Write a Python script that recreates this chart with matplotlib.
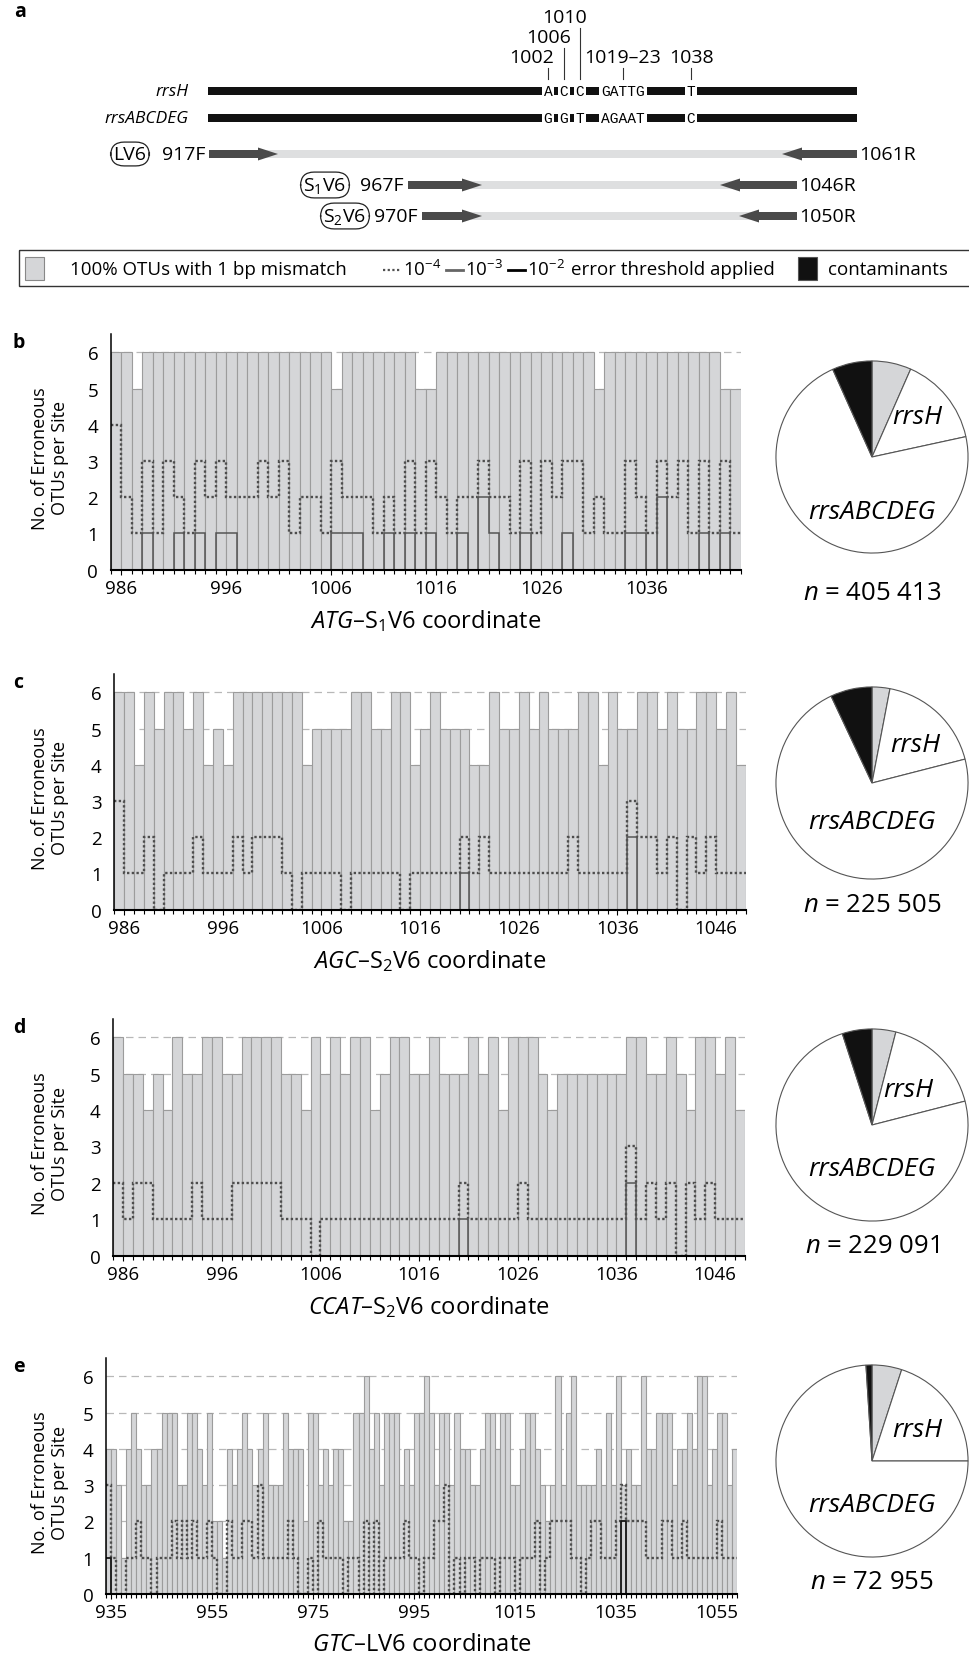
import numpy as np
import matplotlib.pyplot as plt
from matplotlib.patches import Rectangle, FancyArrow
from matplotlib.transforms import blended_transform_factory

plt.rcParams['font.family'] = ['Open Sans', 'DejaVu Sans']
plt.rcParams['mathtext.fontset'] = 'custom'
plt.rcParams['mathtext.rm'] = 'Open Sans'
plt.rcParams['mathtext.it'] = 'Open Sans:italic'
plt.rcParams['mathtext.bf'] = 'Open Sans:bold'

# ---------------- panel a (schematic) ----------------
site_labels = ['1002', '1006', '1010', '1019–23', '1038']
rrsH_bases = ['A', 'C', 'C', 'GATTG', 'T']
rrsABCDEG_bases = ['G', 'G', 'T', 'AGAAT', 'C']
amplicons = ['LV6', 'S$_1$V6', 'S$_2$V6']
fwd_primers = ['917F', '967F', '970F']
rev_primers = ['1061R', '1046R', '1050R']

# ---------------- panels b-e ----------------
b_start = 985
b_otus = [6, 6, 5, 6, 6, 6, 6, 6, 6, 6, 6, 6, 6, 6, 6, 6, 6, 6, 6, 6,
          6, 5, 6, 6, 6, 6, 6, 6, 6, 5, 5, 6, 6, 6, 6, 6, 6, 6, 6, 6,
          6, 6, 6, 6, 6, 6, 5, 6, 6, 6, 6, 6, 6, 6, 6, 6, 6, 6, 5, 5]
b_e4 = [4, 2, 1, 3, 1, 3, 2, 1, 3, 2, 3, 2, 2, 2, 3, 2, 3, 1, 2, 2,
        1, 3, 2, 2, 2, 1, 2, 1, 3, 1, 3, 2, 1, 2, 2, 3, 2, 2, 1, 3,
        1, 3, 2, 3, 3, 1, 2, 1, 1, 3, 2, 1, 3, 2, 3, 1, 3, 1, 3, 1]
b_e3 = [0, 0, 0, 1, 0, 0, 1, 0, 1, 0, 1, 1, 0, 0, 0, 0, 0, 0, 0, 0,
        0, 1, 1, 1, 0, 0, 1, 0, 1, 0, 1, 0, 0, 1, 0, 2, 1, 0, 0, 1,
        0, 0, 0, 1, 0, 0, 0, 0, 0, 1, 1, 0, 2, 0, 0, 0, 1, 0, 1, 0]

c_start = 985
c_otus = [6, 6, 4, 6, 5, 6, 6, 5, 6, 4, 5, 4, 6, 6, 6, 6, 6, 6, 6, 4,
          5, 5, 5, 5, 6, 6, 5, 5, 6, 6, 4, 5, 6, 5, 5, 5, 4, 4, 6, 5,
          5, 6, 5, 6, 5, 5, 5, 6, 6, 4, 6, 5, 5, 6, 6, 5, 6, 5, 5, 6,
          6, 5, 6, 4]
c_e4 = [3, 1, 1, 2, 0, 1, 1, 1, 2, 1, 1, 1, 2, 1, 2, 2, 2, 1, 0, 1,
        1, 1, 1, 0, 1, 1, 1, 1, 1, 0, 1, 1, 1, 1, 1, 2, 1, 2, 1, 1,
        1, 1, 1, 1, 1, 1, 2, 1, 1, 1, 1, 1, 3, 2, 2, 1, 2, 0, 2, 1,
        2, 1, 1, 1]
c_e3 = [0] * 35 + [1] + [0] * 16 + [2] + [0] * 11

d_start = 985
d_otus = [6, 5, 5, 4, 5, 4, 6, 5, 5, 6, 6, 5, 5, 6, 6, 6, 6, 5, 5, 4,
          6, 5, 6, 5, 6, 6, 4, 5, 6, 6, 5, 5, 6, 5, 5, 5, 6, 5, 6, 4,
          6, 6, 6, 5, 4, 5, 5, 5, 5, 5, 5, 5, 6, 6, 5, 5, 6, 5, 4, 6,
          6, 5, 6, 4]
d_e4 = [2, 1, 2, 2, 1, 1, 1, 1, 2, 1, 1, 1, 2, 2, 2, 2, 2, 1, 1, 1,
        0, 1, 1, 1, 1, 1, 1, 1, 1, 1, 1, 1, 1, 1, 1, 2, 1, 1, 1, 1,
        1, 2, 1, 1, 1, 1, 1, 1, 1, 1, 1, 1, 3, 1, 2, 1, 2, 0, 2, 1,
        2, 1, 1, 1]
d_e3 = [0] * 35 + [1] + [0] * 16 + [2] + [0] * 11

e_start = 934
e_otus = [4, 4, 3, 1, 4, 5, 4, 3, 3, 4, 4, 5, 5, 5, 3, 3, 5, 5, 4, 3,
          5, 2, 2, 1, 4, 3, 4, 5, 4, 3, 4, 5, 3, 3, 3, 5, 4, 4, 4, 2,
          5, 5, 3, 4, 3, 4, 4, 2, 2, 5, 5, 6, 4, 5, 3, 5, 5, 5, 3, 4,
          3, 5, 5, 6, 5, 3, 5, 5, 3, 5, 4, 4, 3, 3, 4, 5, 5, 4, 5, 5,
          3, 3, 4, 5, 5, 4, 3, 2, 3, 6, 3, 5, 6, 3, 3, 3, 3, 4, 3, 5,
          3, 6, 3, 4, 3, 3, 6, 4, 4, 5, 5, 5, 3, 4, 4, 5, 4, 6, 6, 3,
          4, 5, 5, 3, 4]
e_e4 = [3, 1, 0, 0, 1, 1, 2, 1, 1, 0, 1, 1, 1, 2, 1, 2, 1, 2, 1, 1,
        2, 1, 0, 0, 2, 1, 1, 2, 2, 1, 3, 1, 1, 1, 1, 1, 2, 1, 0, 0,
        1, 0, 2, 1, 1, 1, 1, 0, 1, 1, 0, 2, 0, 2, 0, 1, 1, 1, 1, 2,
        1, 1, 0, 1, 1, 2, 2, 3, 0, 1, 0, 1, 1, 0, 1, 1, 1, 0, 1, 1,
        1, 0, 1, 1, 1, 2, 0, 1, 2, 2, 2, 2, 1, 1, 0, 1, 2, 2, 1, 1,
        1, 2, 3, 2, 2, 2, 2, 1, 1, 1, 2, 2, 1, 1, 2, 1, 1, 1, 1, 1,
        1, 2, 1, 1, 1]
e_e3 = [1] + [0] * 101 + [2] + [0] * 22
e_e2 = [1] + [0] * 101 + [2] + [0] * 22

tick_labels_b = [986, 996, 1006, 1016, 1026, 1036]
tick_labels_c = [986, 996, 1006, 1016, 1026, 1036, 1046]
tick_labels_e = [935, 955, 975, 995, 1015, 1035, 1055]

primer_prefix = ['ATG', 'AGC', 'CCAT', 'GTC']
primer_region = ['S$_1$V6', 'S$_2$V6', 'S$_2$V6', 'LV6']

# pie shares (%): 1-bp mismatch OTUs, rrsH, rrsABCDEG, contaminants
pie_b = [6.6, 15.0, 71.7, 6.7]
pie_c = [3.0, 18.0, 72.0, 7.0]
pie_d = [4.0, 17.0, 74.0, 5.0]
pie_e = [5.0, 20.0, 74.0, 1.0]
n_reads = ['405 413', '225 505', '229 091', '72 955']

GRAY = '#d5d6d8'
EDGE = '#9c9c9c'
W, H = 969, 1656
FS = 13.5

fig = plt.figure(figsize=(W / 100, H / 100), dpi=100)
ov = fig.add_axes([0, 0, 1, 1], zorder=0)
ov.set_xlim(0, W)
ov.set_ylim(H, 0)
ov.axis('off')


def px_axes(x0, y0, x1, y1):
    return fig.add_axes([x0 / W, 1 - y1 / H, (x1 - x0) / W, (y1 - y0) / H], zorder=1)


# ---- panel a ----
ov.text(14, 12, 'a', fontsize=14, fontweight='bold', va='center')
site_x = [548, 564, 580, 623, 691]
label_x = [532, 549, 565, 623, 692]
label_y = [58, 38, 18, 58, 58]
for sx, lx, ly, lab in zip(site_x, label_x, label_y, site_labels):
    ov.text(lx, ly, lab, fontsize=14, ha='center', va='center')
    ov.plot([sx, sx], [ly + 11, 80], color='#333', lw=0.8)

gene_y = [92, 119]
for gy, name, bases in zip(gene_y, ['rrsH', 'rrsABCDEG'], [rrsH_bases, rrsABCDEG_bases]):
    ov.add_patch(Rectangle((208, gy - 4), 649, 8, color='#111', lw=0))
    ov.text(189, gy, name, fontsize=12.5, style='italic', ha='right', va='center')
    for sx, b in zip(site_x, bases):
        ov.text(sx, gy, b, fontsize=10.5, family='Liberation Mono', ha='center', va='center',
                bbox=dict(facecolor='white', edgecolor='none', pad=1.4))

row_y = [155, 186, 217]
bar_x0 = [209, 408, 422]
bar_x1 = [857, 797, 797]
fwd_end = [278, 482, 482]
rev_start = [782, 720, 739]
box_x = [130, 325, 345]
for y, x0, x1, fe, rs, bx, amp, fp, rp in zip(row_y, bar_x0, bar_x1, fwd_end, rev_start,
                                                box_x, amplicons, fwd_primers, rev_primers):
    ov.add_patch(Rectangle((x0, y - 4), x1 - x0, 8, color='#dedfe0', lw=0))
    ov.add_patch(FancyArrow(x0, y, fe - x0, 0, width=8, head_width=13, head_length=20,
                            length_includes_head=True, color='#4a4a4a', lw=0))
    ov.add_patch(FancyArrow(x1, y, rs - x1, 0, width=8, head_width=13, head_length=20,
                            length_includes_head=True, color='#4a4a4a', lw=0))
    ov.text(bx, y, amp, fontsize=14, ha='center', va='center',
            bbox=dict(boxstyle='round,pad=0.15,rounding_size=0.7', fc='white', ec='#222', lw=0.9))
    ov.text(x0 - 4, y, fp, fontsize=14, ha='right', va='center')
    ov.text(x1 + 2, y, rp, fontsize=14, ha='left', va='center')

# ---- legend ----
ov.add_patch(Rectangle((19, 251), 960, 36, fill=False, ec='#333', lw=1.0))
ov.add_patch(Rectangle((25, 258), 19, 23, fc=GRAY, ec='#888', lw=0.8))
ov.text(70, 270, '100% OTUs with 1 bp mismatch', fontsize=FS, va='center')
ov.plot([383, 401], [271, 271], color='#505050', lw=1.6, linestyle=(0, (1, 1.1)))
ov.text(403, 270, '10$^{-4}$', fontsize=FS, va='center')
ov.plot([446, 463], [271, 271], color='#666', lw=2)
ov.text(465, 270, '10$^{-3}$', fontsize=FS, va='center')
ov.plot([508, 525], [271, 271], color='black', lw=2)
ov.text(527, 270, '10$^{-2}$', fontsize=FS, va='center')
ov.text(571, 270, 'error threshold applied', fontsize=FS, va='center')
ov.add_patch(Rectangle((798, 258), 19, 23, fc='#111', ec='#555', lw=0.8))
ov.text(828, 270, 'contaminants', fontsize=FS, va='center')


# ---- bar panels ----
def bar_panel(rect, letter, start, otus, e4, e3, e2, ticks, prefix, region):
    ax = px_axes(*rect)
    n = len(otus)
    edges = np.arange(start, start + n + 1)
    for y in range(1, 7):
        ax.axhline(y, color='#b8b8b8', lw=0.9, dashes=(6, 4), zorder=1)
    ax.bar(edges[:-1], otus, width=1, align='edge', color=GRAY, edgecolor=EDGE,
           linewidth=0.8, zorder=2)
    ax.stairs(e4, edges, baseline=None, color='#4d4d4d', lw=1.7,
              linestyle=(0, (1, 1.0)), zorder=3)
    ax.stairs(e3, edges, baseline=None, color='#555555', lw=1.1, zorder=4)
    ax.stairs(e2, edges, baseline=None, color='#111111', lw=1.1, zorder=5)
    ax.set_xlim(edges[0], edges[-1])
    ax.set_ylim(0, 6.5)
    for s in ['top', 'right']:
        ax.spines[s].set_visible(False)
    ax.spines['left'].set_linewidth(1.1)
    ax.spines['bottom'].set_linewidth(1.5)
    for s in ['left', 'bottom']:
        ax.spines[s].set_zorder(10)
    ax.set_yticks(range(7))
    ax.set_xticks(ticks)
    ax.set_xticks(edges, minor=True)
    ax.tick_params(axis='y', length=0, pad=9, labelsize=13.5)
    ax.tick_params(axis='x', which='both', length=3.5, width=0.8, pad=3, labelsize=13.5)
    ax.tick_params(axis='x', which='minor', length=3)
    ax.patch.set_alpha(0)
    x0, y0, x1, y1 = rect
    hpx = y1 - y0
    ax.text(0.5, -50 / hpx, '$\\mathit{%s}$–%s coordinate' % (prefix, region), fontsize=17,
            ha='center', va='center', transform=ax.transAxes)
    tr = blended_transform_factory(ax.transAxes, ax.transData)
    ax.text((50 - x0) / (x1 - x0), 3.1, 'No. of Erroneous\nOTUs per Site', fontsize=13,
            rotation=90, ha='center', va='center', multialignment='center', transform=tr,
            linespacing=1.2)
    ov.text(13, y0 + 8, letter, fontsize=14, fontweight='bold', va='center')
    return ax


zeros = lambda k: [0] * k
bar_panel((110.7, 335.2, 740.7, 570.7), 'b', b_start, b_otus, b_e4, b_e3, zeros(len(b_otus)),
          tick_labels_b, primer_prefix[0], primer_region[0])
bar_panel((114.3, 675.2, 745.7, 910.7), 'c', c_start, c_otus, c_e4, c_e3, zeros(len(c_otus)),
          tick_labels_c, primer_prefix[1], primer_region[1])
bar_panel((113.3, 1020.0, 744.7, 1256.7), 'd', d_start, d_otus, d_e4, d_e3, zeros(len(d_otus)),
          tick_labels_c, primer_prefix[2], primer_region[2])
bar_panel((106.0, 1359.3, 737.3, 1595.0), 'e', e_start, e_otus, e_e4, e_e3, e_e2,
          tick_labels_e, primer_prefix[3], primer_region[3])


# ---- pies ----
def pie_panel(cy, shares, n_txt, rrsH_pos, main_y, n_off):
    r = 97
    cx = 872
    ax = px_axes(cx - r, cy - r, cx + r, cy + r)
    ax.pie(shares, colors=[GRAY, 'white', 'white', '#111111'], startangle=90,
           counterclock=False, radius=1,
           wedgeprops=dict(edgecolor='#555555', linewidth=0.8))
    ax.set_xlim(-1.01, 1.01)
    ax.set_ylim(-1.01, 1.01)
    ax.text(rrsH_pos[0], rrsH_pos[1], 'rrsH', style='italic', fontsize=19, ha='center', va='center')
    ax.text(0, main_y, 'rrsABCDEG', style='italic', fontsize=19, ha='center', va='center')
    ov.text(cx, cy + n_off, '$\\mathit{n}$ = ' + n_txt, fontsize=18.5, ha='center', va='center')


pie_panel(458, pie_b, n_reads[0], (0.47, 0.42), -0.57, 136)
pie_panel(784, pie_c, n_reads[1], (0.45, 0.40), -0.40, 122)
pie_panel(1126, pie_d, n_reads[2], (0.38, 0.37), -0.45, 121)
pie_panel(1462, pie_e, n_reads[3], (0.47, 0.33), -0.45, 121)

fig.savefig('out.png', dpi=100)
